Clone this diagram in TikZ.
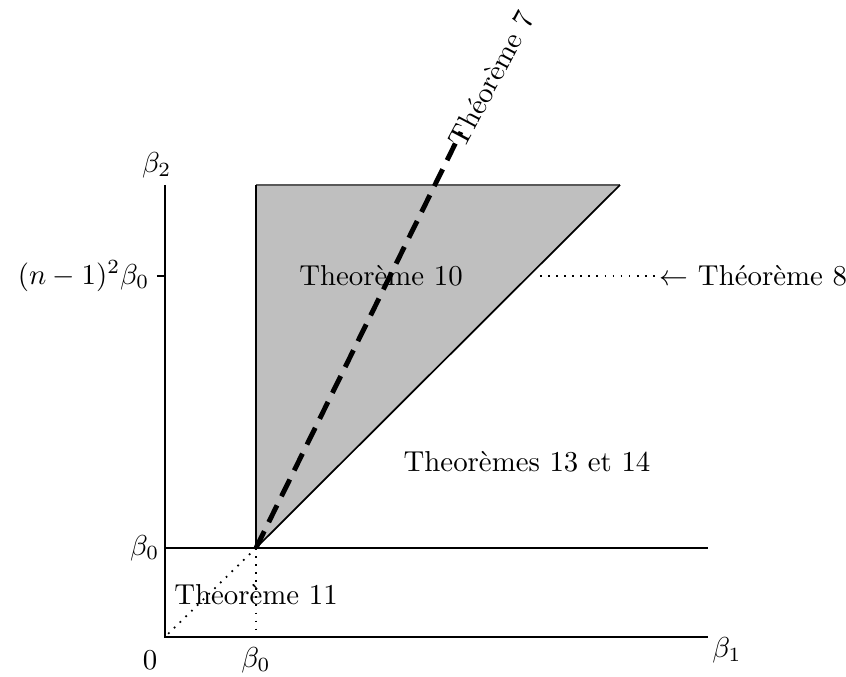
\documentclass[tikz,border=0pt]{standalone}
\usetikzlibrary{calc}
\begin{document}
\begin{tikzpicture}[x=0.347pt,y=-0.347pt,
  axis/.style={line width=0.75pt},
  dotline/.style={line width=0.6pt,dash pattern=on 0.6pt off 2.2pt},
  lbl/.style={inner sep=0pt}]
\useasboundingbox (0,0) rectangle (846,677);
% coordinates
\coordinate (O) at (165,637);
\coordinate (X1) at (708,637);
\coordinate (L0) at (165,548);
\coordinate (R0) at (708,548);
\coordinate (Ytop) at (165,185);
\coordinate (P) at (256,548);
\coordinate (PB) at (256,637);
\coordinate (Q) at (256,185);
\coordinate (S) at (620,185);
\coordinate (T7) at (461,132);
\coordinate (TickA) at (157,276);
\coordinate (TickB) at (165,276);
\coordinate (D1) at (168,634);
\coordinate (H1) at (540,276);
% shaded region
\fill[gray!50] (P) -- (Q) -- (S) -- cycle;
\draw[gray!70!black,line width=0.6pt] (Q) -- (S);
\draw[axis] (P) -- (Q);
\draw[line width=0.6pt] (P) -- (S);
% axes
\draw[axis] (Ytop) -- (O) -- (X1);
\draw[axis] (L0) -- (R0);
\draw[axis] (TickA) -- (TickB);
% dotted lines
\draw[dotline] (P) -- (D1);
\draw[dotline] (P) -- (PB);
% labels
\node[lbl,anchor=east] (lb2) at (172,165) {$\beta_2$};
\node[lbl,anchor=east] (lnb) at (150,276) {$(n-1)^2\beta_0$};
\node[lbl,anchor=east] (lb0l) at (160,548) {$\beta_0$};
\node[lbl] (l0) at (150,660) {$0$};
\node[lbl] (lb0b) at (256,660) {$\beta_0$};
\node[lbl] (lb1) at (727,650) {$\beta_1$};
\node[lbl] (t10) at (381,276) {Theor\`eme 10};
\node[lbl] (t1314) at (527,462) {Theor\`emes 13 et 14};
\node[lbl] (t11) at (256,595) {Theor\`eme 11};
\node[lbl,anchor=west] (t8) at (659,276) {$\leftarrow$ Th\'eor\`eme 8};
\draw[dotline] (H1) -- (t8.west);
% dashed line and Theorem 7
\draw[line width=1.7pt,dash pattern=on 6.5pt off 3.5pt] (P) -- (T7);
\node[lbl,rotate=62,anchor=west] (t7) at (456,145) {Th\'eor\`eme 7};
\end{tikzpicture}
\end{document}
